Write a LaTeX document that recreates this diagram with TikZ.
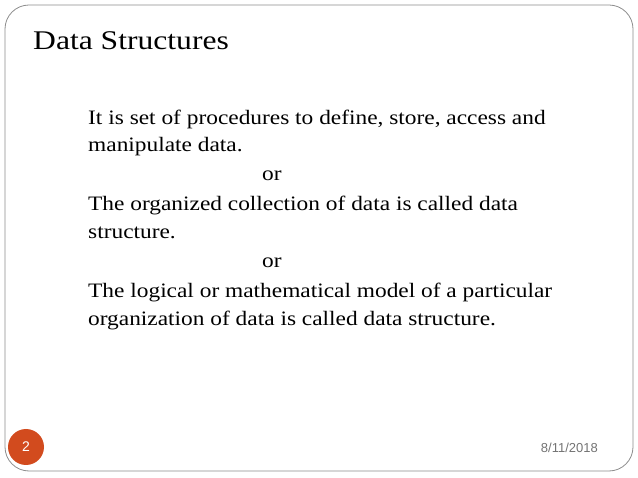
\documentclass[tikz,border=0pt]{standalone}
\usepackage{fontspec}
\setmainfont{Liberation Serif}[FakeStretch=1.14]
\setsansfont{Liberation Sans}
\definecolor{frame}{HTML}{8C8C8C}
\definecolor{badge}{HTML}{D24B1E}
\begin{document}
\begin{tikzpicture}[x=1pt,y=-1pt,
  body/.style={anchor=base west,inner sep=0pt,font=\fontsize{20.5}{24}\selectfont}]
\useasboundingbox (0,0) rectangle (638,478);
\draw[frame,line width=0.8pt,rounded corners=24pt] (5,5) rectangle (633,471);
\node[anchor=base west,inner sep=0pt,font=\addfontfeature{FakeStretch=1.17}\fontsize{27}{30}\selectfont] (title) at (33,50) {Data Structures};
\node[body] (l1) at (88,125) {It is set of procedures to define, store, access and};
\node[body] (l2) at (88,152) {manipulate data.};
\node[body] (o1) at (262,181) {or};
\node[body] (l3) at (88,211) {The organized collection of data is called data};
\node[body] (l4) at (88,239) {structure.};
\node[body] (o2) at (262,268) {or};
\node[body] (l5) at (88,298) {The logical or mathematical model of a particular};
\node[body] (l6) at (88,326) {organization of data is called data structure.};
\node[circle,fill=badge,minimum size=36pt,inner sep=0pt,text=white,font=\sffamily\fontsize{14}{16}\selectfont] (num) at (26,447) {2};
\node[anchor=east,inner sep=0pt,text=gray!90!black,font=\sffamily\fontsize{13}{15}\selectfont] (date) at (598,448) {8/11/2018};
\end{tikzpicture}
\end{document}
